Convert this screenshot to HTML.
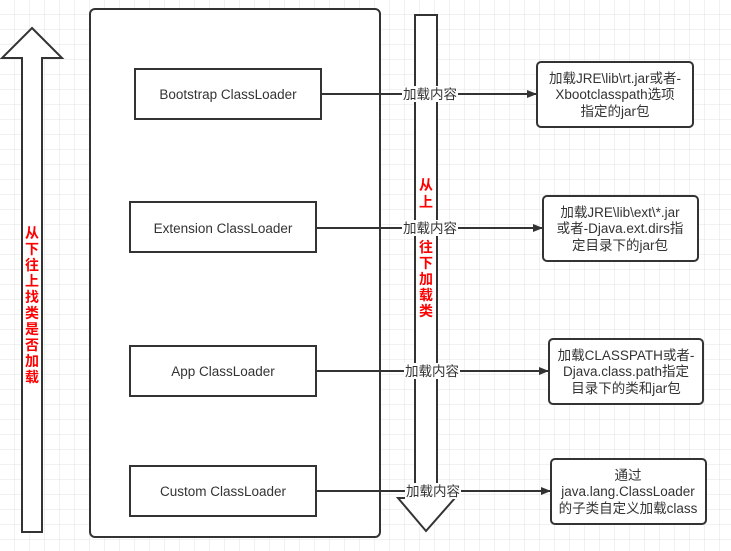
<!DOCTYPE html>
<html><head><meta charset="utf-8"><style>
html,body{margin:0;padding:0;background:#fff}
svg{display:block}
text{font-family:"Liberation Sans","Noto Sans CJK SC",sans-serif;font-size:13.5px;fill:#333}
.r{fill:#f00;font-weight:bold;font-size:14px}
</style></head><body>
<svg width="731" height="551" viewBox="0 0 731 551" xmlns="http://www.w3.org/2000/svg">
<defs>
<pattern id="g" width="15" height="15" patternUnits="userSpaceOnUse"><path d="M15 0V15H0" fill="none" stroke="#e3e3e3" stroke-width="1"/></pattern>
<marker id="a" markerWidth="10" markerHeight="8" refX="9" refY="4" orient="auto" markerUnits="userSpaceOnUse"><path d="M0 0L10 4L0 8z" fill="#333"/></marker>
</defs>
<rect width="731" height="551" fill="url(#g)"/>
<g stroke="#333" stroke-width="2" fill="#fff">
<path d="M32 28L62 58H42V532H22V58H2Z"/>
<rect x="90" y="9" width="290" height="528" rx="5"/>
<path d="M415 15H437V498H455L426 531L398 498H415Z"/>
<rect x="135" y="69" width="186" height="50"/>
<rect x="130" y="202" width="186" height="50"/>
<rect x="130" y="346" width="186" height="50"/>
<rect x="130" y="466" width="186" height="50"/>
<rect x="537" y="62" width="156" height="65" rx="4"/>
<rect x="543" y="196" width="155" height="65" rx="4"/>
<rect x="549" y="339" width="154" height="65" rx="4"/>
<rect x="551" y="459" width="155" height="65" rx="4"/>
</g>
<g stroke="#333" stroke-width="2" marker-end="url(#a)">
<line x1="321" y1="94" x2="536" y2="94"/>
<line x1="316" y1="228" x2="542" y2="228"/>
<line x1="316" y1="371" x2="548" y2="371"/>
<line x1="316" y1="491" x2="550" y2="491"/>
</g>
<g fill="#fff"><rect x="402" y="86" width="56" height="16"/><rect x="402" y="220" width="56" height="16"/><rect x="404" y="363" width="56" height="16"/><rect x="405" y="483" width="56" height="16"/></g>
<g text-anchor="middle">
<text x="430" y="99">加载内容</text><text x="430" y="233">加载内容</text><text x="432" y="376">加载内容</text><text x="433" y="496">加载内容</text>
<text x="228" y="99">Bootstrap ClassLoader</text>
<text x="223" y="233">Extension ClassLoader</text>
<text x="223" y="376">App ClassLoader</text>
<text x="223" y="496">Custom ClassLoader</text>
<text x="615" y="83">加载JRE\lib\rt.jar或者-</text><text x="615" y="99">Xbootclasspath选项</text><text x="615" y="116">指定的jar包</text>
<text x="620" y="217">加载JRE\lib\ext\*.jar</text><text x="620" y="233">或者-Djava.ext.dirs指</text><text x="620" y="250">定目录下的jar包</text>
<text x="626" y="360">加载CLASSPATH或者-</text><text x="626" y="376">Djava.class.path指定</text><text x="626" y="393">目录下的类和jar包</text>
<text x="628" y="480">通过</text><text x="628" y="496">java.lang.ClassLoader</text><text x="628" y="513">的子类自定义加载class</text>
<text class="r" x="32" y="238">从</text><text class="r" x="32" y="254">下</text><text class="r" x="32" y="270">往</text><text class="r" x="32" y="286">上</text><text class="r" x="32" y="302">找</text><text class="r" x="32" y="318">类</text><text class="r" x="32" y="334">是</text><text class="r" x="32" y="350">否</text><text class="r" x="32" y="366">加</text><text class="r" x="32" y="382">载</text>
<text class="r" x="426" y="190">从</text><text class="r" x="426" y="207">上</text>
<text class="r" x="426" y="252">往</text><text class="r" x="426" y="268">下</text><text class="r" x="426" y="284">加</text><text class="r" x="426" y="300">载</text><text class="r" x="426" y="316">类</text>
</g>
</svg>
</body></html>
